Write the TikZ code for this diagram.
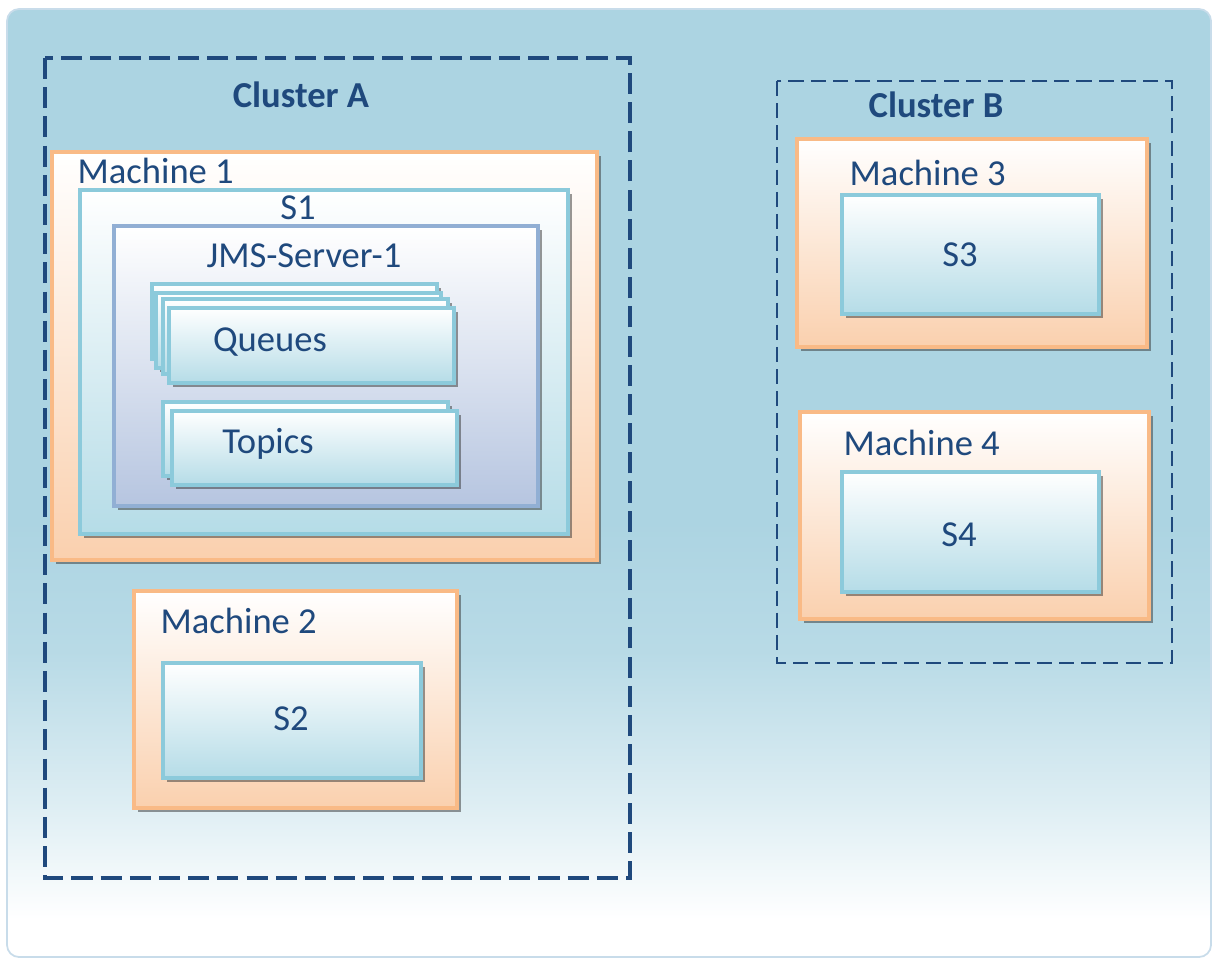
\documentclass[tikz,border=0pt]{standalone}
\usepackage{fontspec}
\setmainfont{Carlito}
\usetikzlibrary{shadows}

\definecolor{textblue}{RGB}{31,73,125}
\definecolor{bgblue}{RGB}{172,212,226}
\definecolor{bgline}{RGB}{200,220,234}
\definecolor{machineline}{RGB}{249,186,134}
\definecolor{machinefill}{RGB}{250,208,174}
\definecolor{serverline}{RGB}{140,202,219}
\definecolor{serverfill}{RGB}{181,220,231}
\definecolor{jmsline}{RGB}{145,175,212}
\definecolor{jmsfill}{RGB}{182,197,224}

\pgfdeclareverticalshading{bgfade}{100bp}{color(0bp)=(white); color(27bp)=(white);
  color(33bp)=(bgblue!40!white); color(41bp)=(bgblue!85!white); color(48bp)=(bgblue); color(100bp)=(bgblue)}

\tikzset{
  boxshadow/.style={drop shadow={shadow xshift=0.035cm, shadow yshift=-0.04cm, opacity=0.5, fill=black!80}},
  machinebox/.style={boxshadow, draw=machineline, line width=1pt, top color=white, bottom color=machinefill},
  serverbox/.style={boxshadow, draw=serverline, line width=1pt, top color=white, bottom color=serverfill},
  jmsbox/.style={boxshadow, draw=jmsline, line width=1pt, top color=white, bottom color=jmsfill},
  cardbox/.style={boxshadow, draw=serverline, line width=1pt, top color=white, bottom color=serverfill},
  clusterA/.style={draw=textblue, line width=0.9pt, dash pattern=on 6pt off 2.3pt},
  clusterB/.style={draw=textblue, line width=0.65pt, dash pattern=on 4.3pt off 2pt},
}

\begin{document}
\begin{tikzpicture}[x=0.01cm, y=-0.01cm,
  every node/.style={font=\fontsize{10.4}{12}\selectfont, text=textblue, inner sep=0pt}]

\useasboundingbox (0,0) rectangle (1212,960);

% sfondo
\shade[shading=bgfade, draw=bgline, line width=0.5pt, rounded corners=0.12cm] (7,9) rectangle (1211,957);

% cluster tratteggiati
\draw[clusterA] (45,58) rectangle (630,878);
\draw[clusterB] (777,81) rectangle (1172,663);
\node[font=\fontsize{10.4}{12}\selectfont\bfseries, anchor=base] (clusterA) at (301,107) {Cluster A};
\node[font=\fontsize{10.4}{12}\selectfont\bfseries, anchor=base] (clusterB) at (936,117) {Cluster B};

% Machine 1 con S1 e JMS-Server-1
\draw[machinebox] (52,152) rectangle (597,560);
\draw[serverbox] (80,190) rectangle (568,534);
\draw[jmsbox] (114,226) rectangle (538,506);
\node[anchor=base west] (machine1) at (77,183) {Machine 1};
\node[anchor=base] (s1) at (298,219) {S1};
\node[anchor=base] (jms1) at (304,267) {JMS-Server-1};

% pila delle code
\foreach \dx/\dy in {0/0, 4/9, 11/15, 17/24}
  \draw[cardbox] (152+\dx,284+\dy) rectangle ++(285,75);
\node[anchor=base] (queues) at (270,351) {Queues};

% pila dei topic
\foreach \dx/\dy in {0/0, 9/9}
  \draw[cardbox] (163+\dx,402+\dy) rectangle ++(285,74);
\node[anchor=base] (topics) at (268,453) {Topics};

% Machine 2
\draw[machinebox] (134,591) rectangle (457,808);
\draw[serverbox] (163,663) rectangle (421,778);
\node[anchor=base west] (machine2) at (160,633) {Machine 2};
\node[anchor=base] (s2) at (291,730) {S2};

% Machine 3
\draw[machinebox] (797,139) rectangle (1147,347);
\draw[serverbox] (842,195) rectangle (1099,314);
\node[anchor=base west] (machine3) at (849,185) {Machine 3};
\node[anchor=base] (s3) at (960,266) {S3};

% Machine 4
\draw[machinebox] (800,412) rectangle (1149,619);
\draw[serverbox] (842,472) rectangle (1099,592);
\node[anchor=base west] (machine4) at (843,455) {Machine 4};
\node[anchor=base] (s4) at (959,546) {S4};

\end{tikzpicture}
\end{document}
